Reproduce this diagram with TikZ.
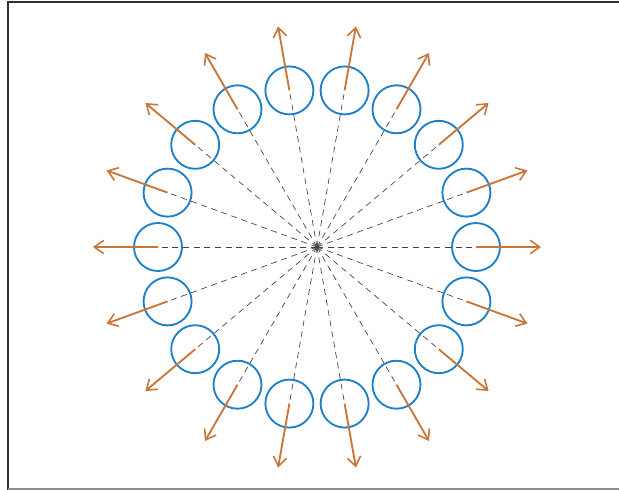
\documentclass[tikz,border=0pt]{standalone}
\usepackage{xcolor}
\usepackage{tikz}
\usetikzlibrary{arrows.meta,calc}
\definecolor{ringblue}{HTML}{1F80C8}
\definecolor{vecorange}{HTML}{C8763A}

\begin{document}
\begin{tikzpicture}[x=0.75pt, y=-0.75pt,
    ring/.style={circle, draw=ringblue, line width=1.4pt, minimum size=36pt, inner sep=0pt},
    spoke/.style={black!75, line width=0.5pt, dash pattern=on 4.5pt off 3.5pt},
    vec/.style={vecorange, line width=1.4pt, -{Straight Barb[length=7pt, width=10pt, line width=1.2pt]}}
]
    \useasboundingbox (0,0) rectangle (619,490);

    % Frame
    \draw[black!80, line width=1.4pt] (8,490) -- (8,2) -- (619,2);
    \draw[black!45, line width=0.8pt] (8,489) -- (619,489);

    % Hub
    \coordinate (hub) at (317,247);

    % Spokes, rings and vectors
    \foreach \i in {0,...,17}{
        \pgfmathsetmacro\ang{20*\i}
        \coordinate (pos\i) at ($(hub)+(\ang:159)$);
        \coordinate (tip\i) at ($(hub)+(\ang:224)$);
        \draw[spoke] (hub) -- (pos\i);
    }
    \foreach \i in {0,...,17}{
        \node[ring] (ring\i) at (pos\i) {};
        \draw[vec] (ring\i.center) -- (tip\i);
    }
\end{tikzpicture}
\end{document}
